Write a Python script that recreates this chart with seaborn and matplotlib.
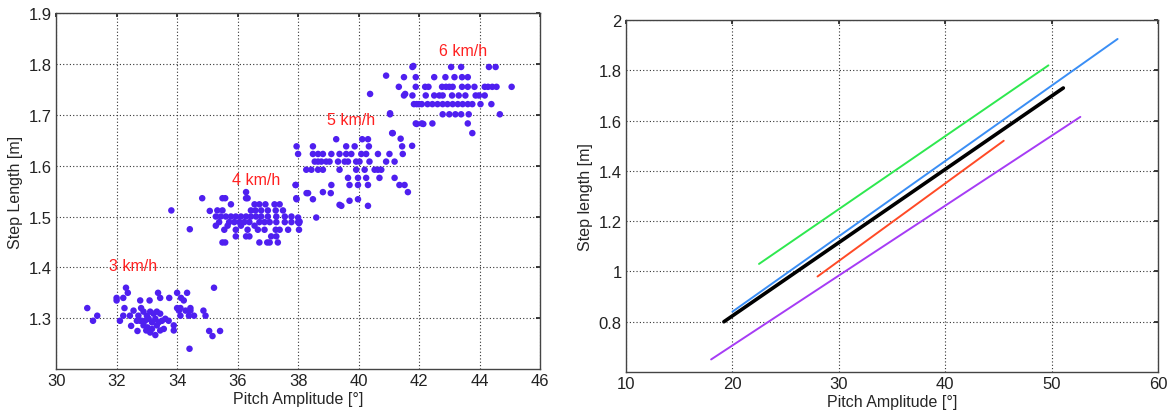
import numpy as np
import pandas as pd
import matplotlib
matplotlib.use("Agg")
import matplotlib.pyplot as plt
import seaborn as sns

# ---------------- data: left scatter (pitch amplitude [deg], step length [m]) ----------------
x_3kmh = [31.03, 31.36, 31.22, 32.31, 32.0, 32.0, 32.37, 32.22, 32.26, 32.11, 32.22, 32.44, 32.48,
          32.56, 32.69, 32.78, 32.81, 33.09, 33.37, 33.44, 33.74, 34.0, 34.13, 34.33, 34.22, 34.44,
          34.0, 34.11, 34.06, 34.28, 34.44, 34.11, 34.39, 34.56, 34.87, 34.94, 35.22, 35.06, 35.17,
          35.42, 34.41, 32.89, 33.0, 33.11, 33.22, 33.33, 33.44, 32.83, 32.94, 33.06, 33.17, 33.28,
          33.39, 33.5, 33.61, 33.72, 32.89, 33.02, 33.17, 33.33, 33.44, 33.56, 32.98, 33.11, 33.28,
          33.89, 33.89, 32.67, 32.78, 32.72]
y_3kmh = [1.32, 1.305, 1.295, 1.36, 1.34, 1.335, 1.35, 1.34, 1.32, 1.295, 1.305, 1.305, 1.285,
          1.315, 1.275, 1.335, 1.32, 1.335, 1.35, 1.34, 1.34, 1.35, 1.34, 1.35, 1.335, 1.32,
          1.32, 1.32, 1.315, 1.315, 1.315, 1.305, 1.305, 1.305, 1.315, 1.305, 1.36, 1.275, 1.265,
          1.275, 1.24, 1.313, 1.305, 1.313, 1.309, 1.313, 1.309, 1.295, 1.295, 1.299, 1.292, 1.299,
          1.292, 1.295, 1.299, 1.295, 1.286, 1.282, 1.279, 1.286, 1.276, 1.279, 1.276, 1.272, 1.267,
          1.286, 1.276, 1.295, 1.295, 1.305]

x_4kmh = [33.81, 34.83, 34.42, 35.08, 35.33, 35.5, 35.5, 35.59, 35.78, 36.28, 36.28, 36.33, 37.92,
          38.28, 37.94, 38.03, 38.03,
          36.56, 36.72, 36.92, 37.22, 37.39,
          36.44, 36.59, 36.78, 37.0, 37.26, 37.5,
          35.28, 35.44, 35.61, 35.78, 35.94, 36.11, 36.28, 36.44, 36.61, 36.78, 37.0, 37.28, 37.56, 37.78,
          35.39, 35.72, 35.89, 36.06, 36.22, 36.39, 36.72, 36.89, 37.06, 37.28, 37.56, 37.78, 38.0,
          35.56, 35.94, 36.33, 36.67, 36.89, 37.26, 37.39, 37.67,
          35.94, 36.28, 36.39, 37.11, 37.28,
          35.5, 35.59, 36.72, 36.98, 37.06, 37.33,
          35.28, 35.67, 36.11, 36.56, 38.0, 38.05]
y_4kmh = [1.512, 1.536, 1.475, 1.511, 1.512, 1.512, 1.536, 1.536, 1.524, 1.548, 1.536, 1.536, 1.562,
          1.546, 1.536, 1.487, 1.474,
          1.524, 1.524, 1.524, 1.524, 1.524,
          1.512, 1.512, 1.512, 1.512, 1.512, 1.512,
          1.5, 1.5, 1.5, 1.5, 1.5, 1.5, 1.5, 1.5, 1.5, 1.5, 1.5, 1.5, 1.5, 1.5,
          1.489, 1.489, 1.489, 1.489, 1.489, 1.489, 1.489, 1.489, 1.489, 1.489, 1.489, 1.489, 1.489,
          1.474, 1.474, 1.474, 1.474, 1.474, 1.474, 1.474, 1.474,
          1.461, 1.461, 1.461, 1.461, 1.461,
          1.449, 1.449, 1.449, 1.449, 1.449, 1.449,
          1.482, 1.482, 1.482, 1.482, 1.498, 1.49]

x_5kmh = [37.95, 38.0, 37.92, 37.95, 38.49,
          38.49, 38.66, 38.82, 39.1, 39.37, 39.59, 39.76, 40.09, 40.25, 40.64, 41.02, 41.46,
          38.55, 38.66, 38.77, 38.93, 39.04, 39.32, 39.54, 39.65, 39.92, 40.03, 40.36, 40.91, 41.19,
          38.27, 38.44, 38.66, 38.82, 39.37, 39.92, 40.2, 40.53, 40.64, 40.75,
          39.26, 39.59, 39.87, 40.12, 40.31, 40.34, 41.11, 41.44, 41.77,
          39.65, 39.98, 40.25, 40.69, 41.19,
          39.1, 39.7, 39.98, 40.31, 41.35, 41.52,
          38.82, 39.08, 39.43, 39.98, 40.31, 41.63, 38.33, 38.49, 39.7, 38.6, 39.37,
          41.04, 41.13]
y_5kmh = [1.638, 1.623, 1.562, 1.534, 1.638,
          1.623, 1.623, 1.623, 1.623, 1.623, 1.623, 1.623, 1.623, 1.623, 1.623, 1.623, 1.623,
          1.608, 1.608, 1.608, 1.608, 1.608, 1.608, 1.608, 1.608, 1.608, 1.608, 1.608, 1.608, 1.608,
          1.592, 1.592, 1.592, 1.592, 1.592, 1.592, 1.592, 1.592, 1.592, 1.592,
          1.652, 1.638, 1.638, 1.652, 1.652, 1.638, 1.664, 1.638, 1.639,
          1.576, 1.576, 1.576, 1.576, 1.576,
          1.562, 1.562, 1.562, 1.562, 1.562, 1.562,
          1.548, 1.546, 1.521, 1.534, 1.521, 1.548, 1.546, 1.534, 1.531, 1.498, 1.523,
          1.703, 1.664]

x_6kmh = [41.78, 43.06, 43.39, 44.31, 44.53,
          41.5, 41.89, 42.5, 42.87, 43.17, 43.42, 43.61,
          41.33, 41.89, 42.2, 42.31, 42.76, 42.89, 43.0, 43.11, 43.42, 43.61, 43.83, 44.17, 44.28,
          44.42, 44.56, 45.06,
          41.5, 41.78, 42.22, 42.5, 42.67, 42.78, 43.09, 43.31, 43.53, 43.87, 43.98, 44.17,
          41.83, 42.0, 42.28, 42.44, 42.61, 42.78, 42.94, 43.11, 43.28, 43.44, 43.61, 43.76, 44.03, 44.39,
          42.78, 43.0, 43.2, 43.39, 43.64, 44.67,
          41.89, 42.09, 42.44, 43.61,
          43.76, 41.39, 40.38, 40.91, 41.04, 41.54, 41.81, 41.92, 42.09, 41.92, 42.14]
y_6kmh = [1.794, 1.794, 1.794, 1.794, 1.794,
          1.774, 1.774, 1.774, 1.774, 1.774, 1.774, 1.774,
          1.755, 1.755, 1.755, 1.755, 1.755, 1.755, 1.755, 1.755, 1.755, 1.755, 1.755, 1.755, 1.755,
          1.755, 1.755, 1.755,
          1.738, 1.738, 1.738, 1.738, 1.738, 1.738, 1.738, 1.738, 1.738, 1.738, 1.738, 1.738,
          1.721, 1.721, 1.721, 1.721, 1.721, 1.721, 1.721, 1.721, 1.721, 1.721, 1.721, 1.721, 1.721, 1.721,
          1.701, 1.701, 1.701, 1.701, 1.701, 1.701,
          1.683, 1.683, 1.683, 1.683,
          1.664, 1.653, 1.741, 1.777, 1.701, 1.741, 1.796, 1.721, 1.721, 1.682, 1.682]

speed_labels = ["3 km/h", "4 km/h", "5 km/h", "6 km/h"]
label_x = [32.55, 36.61, 39.75, 43.45]
label_y = [1.404, 1.572, 1.69, 1.827]

# ---------------- data: right plot, fitted lines (endpoints) ----------------
green_x = [22.5, 49.7]
green_y = [1.03, 1.82]
blue_x = [20.0, 56.2]
blue_y = [0.84, 1.925]
red_x = [28.0, 45.5]
red_y = [0.98, 1.52]
purple_x = [18.0, 52.7]
purple_y = [0.65, 1.615]
black_x = [19.2, 51.1]
black_y = [0.80, 1.73]

# ---------------- build frames ----------------
scatter_df = pd.DataFrame({
    "pitch": x_3kmh + x_4kmh + x_5kmh + x_6kmh,
    "step": y_3kmh + y_4kmh + y_5kmh + y_6kmh,
})

lines = [
    (green_x, green_y, "#2ee84f", 1.4),
    (blue_x, blue_y, "#3a8ef5", 1.4),
    (red_x, red_y, "#ff4a26", 1.4),
    (purple_x, purple_y, "#a63cf5", 1.4),
    (black_x, black_y, "#000000", 2.6),
]

sns.set_theme(style="white")
plt.rcParams["font.family"] = ["Liberation Sans", "DejaVu Sans"]

fig = plt.figure(figsize=(11.69, 4.14), dpi=100)
ax1 = fig.add_axes([0.048, 0.106, 0.414, 0.860])
ax2 = fig.add_axes([0.5355, 0.099, 0.4551, 0.850])

grid_kw = dict(color="#333333", linestyle=(0, (1, 2)), linewidth=0.8)

# left scatter
sns.scatterplot(data=scatter_df, x="pitch", y="step", ax=ax1, color="#4f1ff0",
                marker="o", s=22, edgecolor="none", linewidth=0, legend=False)
for t, lx, ly in zip(speed_labels, label_x, label_y):
    ax1.text(lx, ly, t, color="#ff2020", fontsize=11.5, ha="center", va="center")
ax1.set_xlim(30, 46)
ax1.set_ylim(1.2, 1.9)
ax1.set_xticks(np.arange(30, 47, 2))
ax1.set_yticks([1.3, 1.4, 1.5, 1.6, 1.7, 1.8, 1.9])
ax1.set_yticklabels(["1.3", "1.4", "1.5", "1.6", "1.7", "1.8", "1.9"])
ax1.set_xlabel("Pitch Amplitude [°]", fontsize=11.5, labelpad=2)
ax1.set_ylabel("Step Length [m]", fontsize=11.5, labelpad=4)
ax1.grid(True, **grid_kw)

# right lines
for xs, ys, c, lw in lines:
    sns.lineplot(x=xs, y=ys, ax=ax2, color=c, linewidth=lw, legend=False)
ax2.set_xlim(10, 60)
ax2.set_ylim(0.6, 2.0)
ax2.set_xticks([10, 20, 30, 40, 50, 60])
ax2.set_yticks([0.8, 1.0, 1.2, 1.4, 1.6, 1.8, 2.0])
ax2.set_yticklabels(["0.8", "1", "1.2", "1.4", "1.6", "1.8", "2"])
ax2.set_xlabel("Pitch Amplitude [°]", fontsize=11.5, labelpad=2)
ax2.set_ylabel("Step length [m]", fontsize=11.5, labelpad=4)
ax2.grid(True, **grid_kw)

for ax in (ax1, ax2):
    ax.set_axisbelow(True)
    ax.tick_params(axis="both", labelsize=12, direction="in", length=3,
                   colors="#222222", top=True, right=True, pad=3)
    for sp in ax.spines.values():
        sp.set_color("#444444")
        sp.set_linewidth(1.0)

fig.savefig("out.png", dpi=100)
